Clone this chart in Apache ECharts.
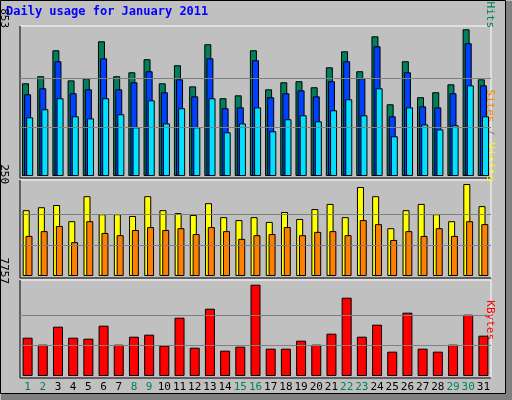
<!DOCTYPE html>
<html><head><meta charset="utf-8">
<script src="https://cdn.jsdelivr.net/npm/echarts@6/dist/echarts.min.js"></script>
<style>html,body{margin:0;padding:0;background:#C0C0C0}#c{width:512px;height:400px}</style>
</head><body><div id="c"></div>
<script>
const days = ['1','2','3','4','5','6','7','8','9','10','11','12','13','14','15','16','17','18','19','20','21','22','23','24','25','26','27','28','29','30','31'];
const weekend = ['1','2','8','9','15','16','22','23','29','30'];
const hits = [539,580,731,556,568,783,580,603,679,539,644,521,766,452,469,731,504,545,551,516,632,725,609,812,417,667,458,487,533,853,562];
const files = [475,510,667,481,504,684,504,545,609,487,562,463,684,394,399,673,458,481,498,463,551,667,568,754,347,603,405,399,481,772,527];
const pages = [341,388,452,347,335,452,359,283,440,306,394,283,452,254,306,399,260,330,353,318,382,446,353,510,231,399,300,271,295,527,347];
const visits = [179,187,193,149,217,168,168,163,217,179,171,166,198,160,152,160,147,174,155,182,196,160,242,217,130,179,196,168,149,250,190];
const sites = [109,122,136,92,149,117,111,125,133,125,130,114,133,122,101,111,114,133,111,120,122,111,152,141,98,122,109,130,109,149,141];
const kbytes = [3256,2661,4190,3256,3171,4275,2661,3341,3510,2576,4954,2406,5719,2152,2491,7757,2321,2321,3001,2661,3595,6653,3341,4360,2067,5379,2321,2067,2661,5209,3426];
const maxLabels = ['853','250','7757'];

const chart = echarts.init(document.getElementById('c'), null, {renderer:'canvas'});
const mono = 'DejaVu Sans Mono';
const grids = [
  {left:20,right:21,top:26,height:150},
  {left:20,right:21,top:180,height:96},
  {left:20,right:21,top:280,height:96}
];
const maxes = [853,250,7757];
const scale = [150/146.7, 96/92, 96/91.3];
function xa(i, show){return {type:'category',data:days,gridIndex:i,axisLine:{show:false},axisTick:{show:false},
  axisLabel:{show:show,interval:0,fontFamily:mono,fontSize:11,margin:6,
   color:(v)=>weekend.includes(v)?'#00805C':'#000'}};}
function ya(i){return {type:'value',gridIndex:i,min:0,max:Math.round(maxes[i]*scale[i]),axisLabel:{show:false},splitLine:{show:false},axisLine:{show:false},axisTick:{show:false}};}
function ml(i){return {silent:true,symbol:'none',label:{show:false},lineStyle:{color:'#808080',type:'solid',width:1},
  data:[{yAxis:maxes[i]/3},{yAxis:maxes[i]*2/3}]};}
function bar(data,color,i,w,gap,extra){return Object.assign({type:'bar',data:data,xAxisIndex:i,yAxisIndex:i,barWidth:w,barGap:gap,
  itemStyle:{color:color,borderColor:'#000',borderWidth:1},animation:false,silent:true},extra||{});}

function panelFrame(g){
  const x=g.left, y=g.top, w=512-g.left-g.right, h=g.height+2;
  return [
    {type:'line',shape:{x1:x,y1:y,x2:x+w,y2:y},style:{stroke:'#fff',lineWidth:1}},
    {type:'line',shape:{x1:x+w,y1:y,x2:x+w,y2:y+h},style:{stroke:'#fff',lineWidth:1}},
    {type:'line',shape:{x1:x,y1:y,x2:x,y2:y+h},style:{stroke:'#000',lineWidth:1}},
    {type:'line',shape:{x1:x,y1:y+h,x2:x+w,y2:y+h},style:{stroke:'#000',lineWidth:1}}
  ];
}
const R = -Math.PI/2;
const graphics = [
  {type:'rect',shape:{x:0.5,y:0.5,width:505,height:393},style:{fill:null,stroke:'#000',lineWidth:1}},
  {type:'rect',shape:{x:1,y:394,width:511,height:6},style:{fill:'#808080'}},
  {type:'rect',shape:{x:506,y:1,width:6,height:399},style:{fill:'#808080'}},
  {type:'text',left:6,top:6,style:{text:'Daily usage for January 2011',fill:'#0000FF',font:'bold 12px '+mono}},
  ...panelFrame(grids[0]),...panelFrame(grids[1]),...panelFrame(grids[2]),
  {type:'text',x:9,y:28,rotation:R,style:{text:maxLabels[0],fill:'#000',font:'11px '+mono,align:'right',verticalAlign:'top'}},
  {type:'text',x:9,y:184,rotation:R,style:{text:maxLabels[1],fill:'#000',font:'11px '+mono,align:'right',verticalAlign:'top'}},
  {type:'text',x:9,y:284,rotation:R,style:{text:maxLabels[2],fill:'#000',font:'11px '+mono,align:'right',verticalAlign:'top'}},
  {type:'text',x:495,y:28,rotation:R,style:{rich:{p:{fill:'#00E0FF',font:'11px '+mono},s:{fill:'#808080',font:'11px '+mono},f:{fill:'#0040FF',font:'11px '+mono},h:{fill:'#00805C',font:'11px '+mono}},
    text:'{p|Pages}{s| / }{f|Files}{s| / }{h|Hits}',align:'right',verticalAlign:'top'}},
  {type:'text',x:495,y:182,rotation:R,style:{rich:{a:{fill:'#FF8000',font:'11px '+mono},s:{fill:'#808080',font:'11px '+mono},b:{fill:'#FFFF00',font:'11px '+mono}},
    text:'{a|Sites}{s| / }{b|Visits}',align:'right',verticalAlign:'top'}},
  {type:'text',x:495,y:340,rotation:R,style:{text:'KBytes',fill:'#FF0000',font:'11px '+mono,align:'right',verticalAlign:'top'}}
];

chart.setOption({
  backgroundColor:'#C0C0C0',
  animation:false,
  grid:grids,
  xAxis:[xa(0,false),xa(1,false),xa(2,true)],
  yAxis:[ya(0),ya(1),ya(2)],
  graphic:graphics,
  series:[
    bar(hits,'#00805C',0,7,'-70%',{markLine:ml(0),z:2}),
    bar(files,'#0040FF',0,7,'-70%',{z:3}),
    bar(pages,'#00E0FF',0,7,'-70%',{z:4}),
    bar(visits,'#FFFF00',1,7,'-60%',{markLine:ml(1),z:2}),
    bar(sites,'#FF8000',1,7,'-60%',{z:3}),
    bar(kbytes,'#FF0000',2,10,'0%',{markLine:ml(2),z:2})
  ]
});
</script></body></html>
